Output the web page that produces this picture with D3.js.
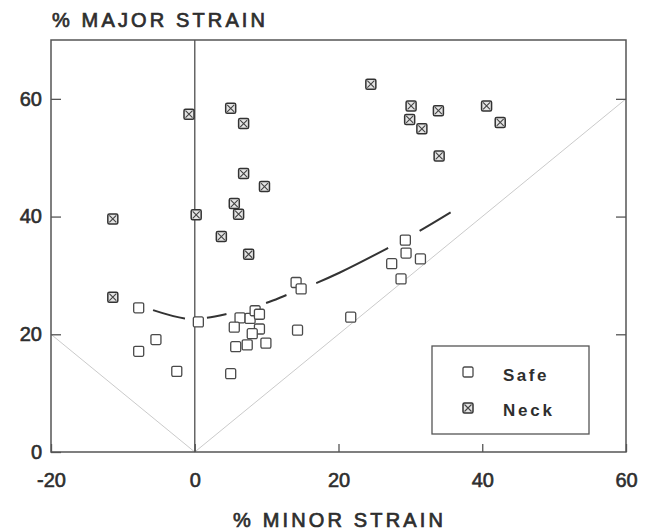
<!DOCTYPE html>
<html>
<head>
<meta charset="utf-8">
<script src="https://cdn.jsdelivr.net/npm/d3@7"></script>
<style>
  html, body { margin: 0; padding: 0; background: #fff; }
  svg text { font-family: "Liberation Sans", Arial, sans-serif; fill: #2e2e2e; }
</style>
</head>
<body>
<svg id="viz" width="652" height="531"></svg>
<script>
// Safe points (minor strain %, major strain %)
const safeMinor = [-7.8, 0.5, -5.4, -7.8, -2.5, 5.0, 14.1, 14.8, 14.3, 6.3, 7.7, 8.4, 9.0,
                   5.5, 9.0, 8.0, 5.7, 7.3, 9.9, 29.3, 29.4, 27.4, 31.4, 28.7, 21.7];
const safeMajor = [24.5, 22.1, 19.1, 17.1, 13.7, 13.3, 28.8, 27.7, 20.7, 22.8, 22.7, 24.0, 23.4,
                   21.2, 20.9, 20.1, 17.9, 18.2, 18.5, 36.0, 33.8, 32.0, 32.8, 29.4, 22.9];

// Neck points
const neckMinor = [-0.8, 5.0, 6.8, 6.8, 9.7, 5.5, 6.1, 0.2, -11.4, 3.7, 7.5, -11.4,
                   24.5, 30.1, 29.9, 31.6, 33.9, 34.0, 40.6, 42.5];
const neckMajor = [57.4, 58.4, 55.8, 47.3, 45.1, 42.2, 40.4, 40.3, 39.6, 36.6, 33.6, 26.3,
                   62.5, 58.8, 56.5, 54.9, 58.0, 50.3, 58.8, 56.0];

// dashed forming-limit curve
const curveMinor = [-5.8, -1.4, 1.7, 4.3, 9.9, 12.8, 16.9, 20.2, 26.8, 31.2, 35.6];
const curveMajor = [24.1, 22.7, 22.8, 23.4, 25.3, 26.7, 28.7, 30.5, 34.6, 37.5, 40.7];

// reference strain paths through the origin
const pathRight = [[0, 0], [60, 60]];
const pathLeft = [[0, 0], [-20, 20]];

const xTicks = [-20, 0, 20, 40, 60];
const yTicks = [0, 20, 40, 60];

const svg = d3.select("#viz");
const plotLeft = 51, plotRight = 626, plotTop = 40, plotBottom = 452;

const x = d3.scaleLinear().domain([-20, 60]).range([plotLeft, plotRight]);
const y = d3.scaleLinear().domain([0, 70]).range([plotBottom, plotTop]);

const line = d3.line().x(d => x(d[0])).y(d => y(d[1]));

// thin strain paths
[pathRight, pathLeft].forEach(p => {
    svg.append("path")
        .attr("d", line(p))
        .attr("fill", "none")
        .attr("stroke", "#c4c4c4")
        .attr("stroke-width", 0.9);
});

// vertical line at zero minor strain
svg.append("line")
    .attr("x1", x(0)).attr("x2", x(0))
    .attr("y1", y(0)).attr("y2", y(70))
    .attr("stroke", "#666")
    .attr("stroke-width", 1.5);

// dashed curve
svg.append("path")
    .datum(d3.zip(curveMinor, curveMajor))
    .attr("d", d3.line().x(d => x(d[0])).y(d => y(d[1])).curve(d3.curveCatmullRom))
    .attr("fill", "none")
    .attr("stroke", "#333")
    .attr("stroke-width", 2)
    .attr("stroke-dasharray", "33,22,20,41,22,32,80,36,40,200");

// axes (labels + inward ticks)
const yAxis = svg.append("g")
    .attr("transform", `translate(${plotLeft},0)`)
    .call(d3.axisLeft(y).tickValues(yTicks).tickFormat(d => String(d))
        .tickSizeInner(-10).tickSizeOuter(0).tickPadding(9));
const xAxis = svg.append("g")
    .attr("transform", `translate(0,${plotBottom})`)
    .call(d3.axisBottom(x).tickValues(xTicks).tickFormat(d => String(d))
        .tickSizeInner(-8).tickSizeOuter(0).tickPadding(21));
svg.append("g")
    .attr("transform", `translate(${plotRight},0)`)
    .call(d3.axisRight(y).tickValues([20, 40, 60]).tickSizeInner(-10).tickSizeOuter(0).tickFormat(""));

[xAxis, yAxis].forEach(g => {
    g.selectAll("text")
        .attr("font-size", 20)
        .attr("font-family", "Liberation Sans, Arial, sans-serif")
        .attr("fill", "#2e2e2e")
        .attr("stroke", "#2e2e2e")
        .attr("stroke-width", 0.6);
});
svg.selectAll(".tick line").attr("stroke", "#555").attr("stroke-width", 1.3);
svg.selectAll(".domain").remove();

// frame
svg.append("rect")
    .attr("x", plotLeft).attr("y", plotTop)
    .attr("width", plotRight - plotLeft).attr("height", plotBottom - plotTop)
    .attr("fill", "none")
    .attr("stroke", "#555")
    .attr("stroke-width", 1.5);

// markers
const S = 10;
function safeMark(g) {
    g.append("rect")
        .attr("x", -S / 2).attr("y", -S / 2)
        .attr("width", S).attr("height", S)
        .attr("rx", 1.5)
        .attr("fill", "#fff")
        .attr("stroke", "#4a4a4a")
        .attr("stroke-width", 1.3);
}
function neckMark(g) {
    g.append("rect")
        .attr("x", -S / 2).attr("y", -S / 2)
        .attr("width", S).attr("height", S)
        .attr("rx", 1.5)
        .attr("fill", "#e4e4e4")
        .attr("stroke", "#333")
        .attr("stroke-width", 1.5);
    g.append("path")
        .attr("d", `M${-S / 2 + 1.5},${-S / 2 + 1.5}L${S / 2 - 1.5},${S / 2 - 1.5}M${S / 2 - 1.5},${-S / 2 + 1.5}L${-S / 2 + 1.5},${S / 2 - 1.5}`)
        .attr("stroke", "#444")
        .attr("stroke-width", 1.1);
}

svg.append("g").selectAll("g")
    .data(d3.zip(safeMinor, safeMajor))
    .join("g")
    .attr("transform", d => `translate(${x(d[0])},${y(d[1])})`)
    .each(function () { safeMark(d3.select(this)); });

svg.append("g").selectAll("g")
    .data(d3.zip(neckMinor, neckMajor))
    .join("g")
    .attr("transform", d => `translate(${x(d[0])},${y(d[1])})`)
    .each(function () { neckMark(d3.select(this)); });

// legend
const legend = svg.append("g");
legend.append("rect")
    .attr("x", 432).attr("y", 346)
    .attr("width", 157).attr("height", 88)
    .attr("fill", "#fff")
    .attr("stroke", "#555")
    .attr("stroke-width", 1.3);
safeMark(legend.append("g").attr("transform", "translate(468,372)"));
neckMark(legend.append("g").attr("transform", "translate(468,408)"));
legend.append("text")
    .attr("x", 503).attr("y", 381)
    .attr("font-size", 17).attr("font-weight", "bold")
    .attr("letter-spacing", 2.5)
    .text("Safe");
legend.append("text")
    .attr("x", 503).attr("y", 416)
    .attr("font-size", 17).attr("font-weight", "bold")
    .attr("letter-spacing", 2.8)
    .text("Neck");

// axis titles
svg.append("text")
    .attr("x", 52).attr("y", 27)
    .attr("font-size", 20)
    .attr("stroke", "#2e2e2e").attr("stroke-width", 0.7)
    .attr("textLength", 213).attr("lengthAdjust", "spacing")
    .text("% MAJOR STRAIN");
svg.append("text")
    .attr("x", 233).attr("y", 527)
    .attr("font-size", 20)
    .attr("stroke", "#2e2e2e").attr("stroke-width", 0.7)
    .attr("textLength", 210).attr("lengthAdjust", "spacing")
    .text("% MINOR STRAIN");
</script>
</body>
</html>
